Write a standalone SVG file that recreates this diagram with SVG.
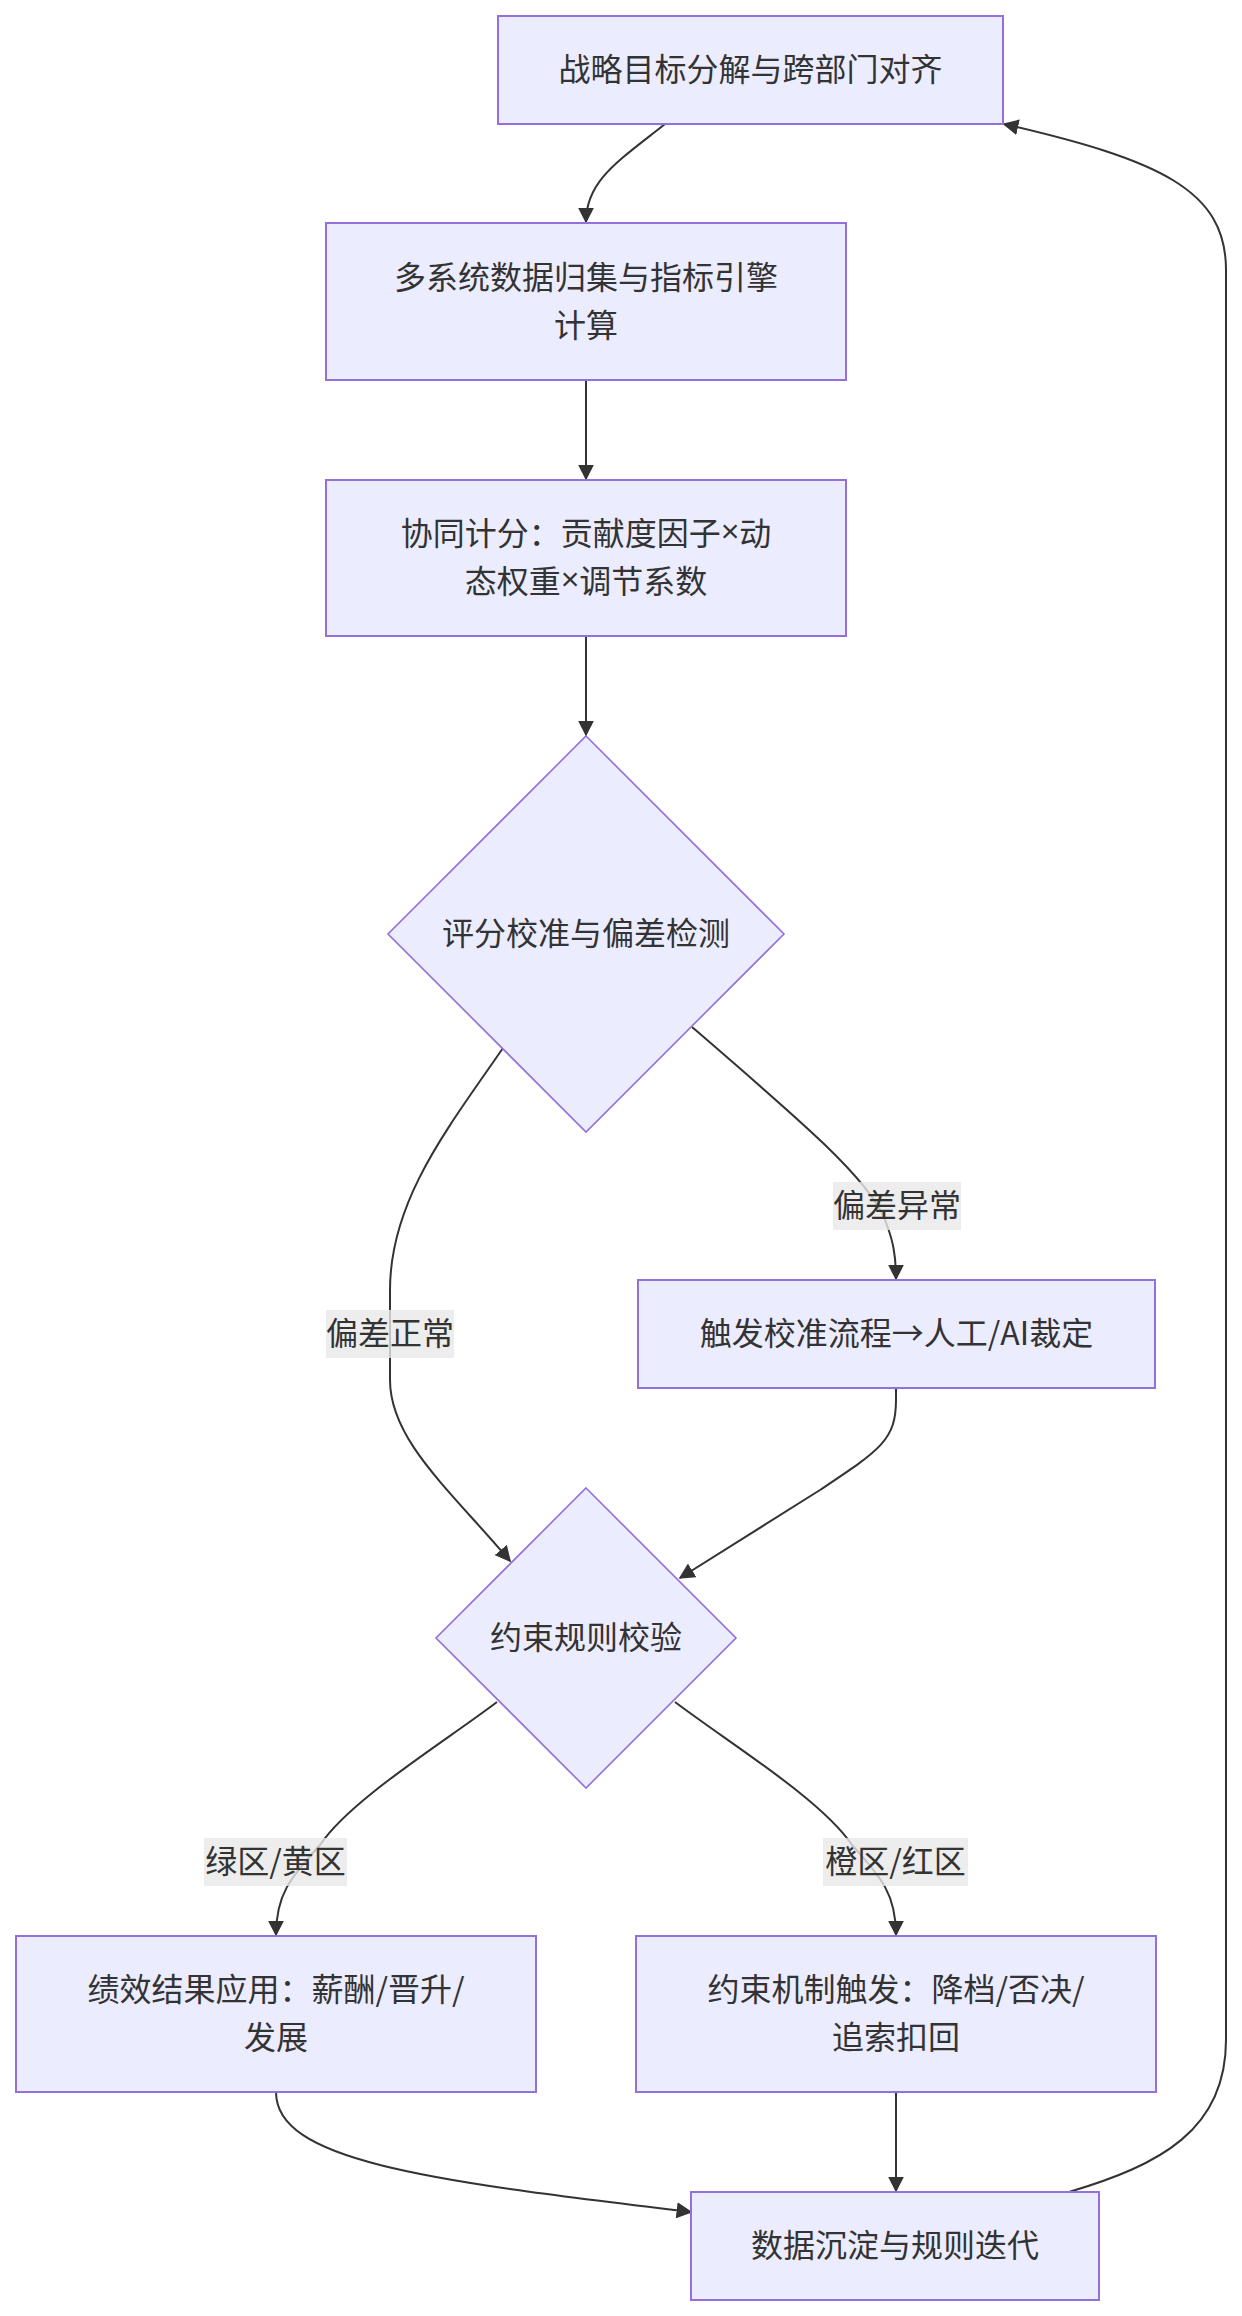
<svg xmlns="http://www.w3.org/2000/svg" width="1242" height="2316" viewBox="0 0 1242 2316">
<defs>
<marker id="arrow" markerUnits="userSpaceOnUse" markerWidth="16" markerHeight="16" viewBox="0 0 10 10" refX="9" refY="5" orient="auto">
<path d="M0,0 L10,5 L0,10 z" fill="#333333"/>
</marker>
</defs>
<style>
.node rect{fill:#ECECFF;stroke:#9370DB;stroke-width:2}
.node polygon{fill:#ECECFF;stroke:#9370DB;stroke-width:1.6}
text{font-family:"Noto Sans CJK SC","Liberation Sans",sans-serif;font-size:32px;fill:#333333;text-anchor:middle;dominant-baseline:central}
.lat{font-family:"Liberation Sans","Noto Sans CJK SC",sans-serif}
.edges path{fill:none;stroke:#333333;stroke-width:2;marker-end:url(#arrow)}
.lbl rect{fill:rgba(232,232,232,0.8)}
</style>
<rect width="1242" height="2316" fill="#ffffff"/>
<g class="edges">
<path d="M665,124 C620,160 586,180 586,222"/>
<path d="M586,380 L586,479"/>
<path d="M586,636 L586,735"/>
<path d="M503,1048 C448,1128 390,1200 390,1290 L390,1380 C390,1440 450,1490 510,1561"/>
<path d="M692,1027 C800,1120 870,1180 885,1220 C893,1240 896,1255 896,1279"/>
<path d="M896,1388 L896,1400 C896,1440 880,1450 820,1490 L680,1578"/>
<path d="M497,1702 C440,1745 350,1800 320,1845 C290,1878 276,1895 276,1935"/>
<path d="M675,1702 C732,1745 822,1800 852,1845 C882,1878 896,1895 896,1935"/>
<path d="M896,2092 L896,2191"/>
<path d="M276,2092 C276,2160 420,2180 691,2212"/>
<path d="M1069,2192 C1160,2165 1226,2130 1226,2040 L1226,270 C1226,190 1160,160 1004,124"/>
</g>
<g class="lbl" id="lbl-normal"><rect x="326" y="1310" width="128" height="48"/><text x="390" y="1331">偏差正常</text></g>
<g class="lbl" id="lbl-abnormal"><rect x="833" y="1182" width="128" height="48"/><text x="897" y="1203">偏差异常</text></g>
<g class="lbl" id="lbl-green"><rect x="204" y="1838" width="143" height="48"/><text x="275.5" y="1859">绿区/黄区</text></g>
<g class="lbl" id="lbl-orange"><rect x="823" y="1838" width="145" height="48"/><text x="895.5" y="1859">橙区/红区</text></g>
<g class="node" id="A"><rect x="498" y="16" width="505" height="108"/><text x="750.5" y="67">战略目标分解与跨部门对齐</text></g>
<g class="node" id="B"><rect x="326" y="223" width="520" height="157"/><text x="586" y="274.5">多系统数据归集与指标引擎</text><text x="586" y="322.5">计算</text></g>
<g class="node" id="C"><rect x="326" y="480" width="520" height="156"/><text x="586" y="531">协同计分：贡献度因子<tspan class="lat">×</tspan>动</text><text x="586" y="579">态权重<tspan class="lat">×</tspan>调节系数</text></g>
<g class="node" id="D"><polygon points="586,736 784,934 586,1132 388,934"/><text x="586" y="931">评分校准与偏差检测</text></g>
<g class="node" id="E"><rect x="638" y="1280" width="517" height="108"/><text x="896.5" y="1331">触发校准流程→人工/AI裁定</text></g>
<g class="node" id="F"><polygon points="586,1488 736,1638 586,1788 436,1638"/><text x="586" y="1635">约束规则校验</text></g>
<g class="node" id="G"><rect x="16" y="1936" width="520" height="156"/><text x="276" y="1987">绩效结果应用：薪酬/晋升/</text><text x="276" y="2035">发展</text></g>
<g class="node" id="H"><rect x="636" y="1936" width="520" height="156"/><text x="896" y="1987">约束机制触发：降档/否决/</text><text x="896" y="2035">追索扣回</text></g>
<g class="node" id="I"><rect x="691" y="2192" width="408" height="108"/><text x="895" y="2243">数据沉淀与规则迭代</text></g>
</svg>
